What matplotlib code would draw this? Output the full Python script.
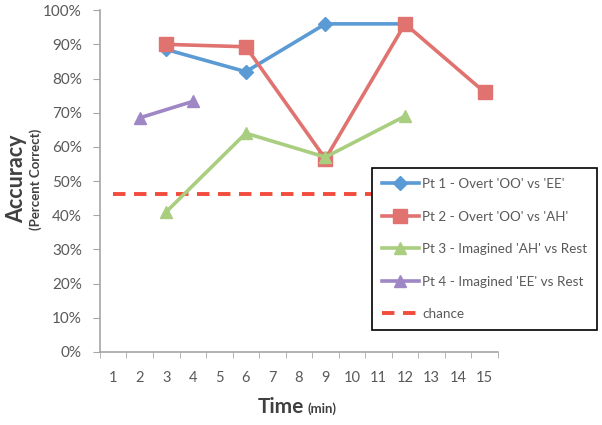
import matplotlib
matplotlib.use("Agg")
import matplotlib.pyplot as plt
from matplotlib.ticker import PercentFormatter

plt.rcParams['font.family'] = ['Lato', 'DejaVu Sans']

categories = list(range(1, 16))
pt1_x = [3, 6, 9, 12]
pt1_y = [88.5, 82, 96, 96]
pt2_x = [3, 6, 9, 12, 15]
pt2_y = [90, 89.3, 56.5, 96, 76]
pt3_x = [3, 6, 9, 12]
pt3_y = [41, 64, 57, 69]
pt4_x = [2, 4]
pt4_y = [68.5, 73.3]
chance_x = [1, 15]
chance_y = [46.3, 46.3]

labels = ["Pt 1 - Overt 'OO' vs 'EE'", "Pt 2 - Overt 'OO' vs 'AH'",
          "Pt 3 - Imagined 'AH' vs Rest", "Pt 4 - Imagined 'EE' vs Rest", "chance"]

fig = plt.figure(figsize=(6.02, 4.25), dpi=100)
ax = fig.add_axes([0.166, 0.172, 0.661, 0.804])

gray = '#595959'
lw = 2.6
ax.plot(chance_x, chance_y, color='#F24C3D', lw=2.8, ls=(0, (3.2, 2.2)), label=labels[4], zorder=2)
ax.plot(pt1_x, pt1_y, color='#5B9BD5', lw=lw, marker='D', ms=7, label=labels[0], zorder=3)
ax.plot(pt2_x, pt2_y, color='#E0736F', lw=lw, marker='s', ms=9.5, label=labels[1], zorder=3)
ax.plot(pt3_x, pt3_y, color='#A9CE7F', lw=lw, marker='^', ms=9, label=labels[2], zorder=3)
ax.plot(pt4_x, pt4_y, color='#9F87C6', lw=lw, marker='^', ms=9, label=labels[3], zorder=3)

ax.set_xlim(0.5, 15.5)
ax.set_ylim(0, 100)
ax.set_yticks(range(0, 101, 10))
ax.yaxis.set_major_formatter(PercentFormatter(decimals=0))
ax.set_xticks(categories)
ax.set_xticks([c - 0.5 for c in categories] + [15.5], minor=True)
ax.tick_params(axis='x', which='major', length=0, pad=14, labelsize=10.5, labelcolor=gray)
ax.tick_params(axis='x', which='minor', length=4, direction='out', color='#A6A6A6')
ax.tick_params(axis='y', length=5, direction='out', color='#A6A6A6', labelsize=11, labelcolor=gray, pad=8)
for s in ['top', 'right']:
    ax.spines[s].set_visible(False)
for s in ['left', 'bottom']:
    ax.spines[s].set_color('#A6A6A6')
    ax.spines[s].set_linewidth(1.2)

# axis titles
fig.text(0.027, 0.58, 'Accuracy', rotation=90, ha='center', va='center',
         fontsize=15.5, fontweight='bold', color='#404040')
fig.text(0.060, 0.577, '(Percent Correct)', rotation=90, ha='center', va='center',
         fontsize=9.5, fontweight='bold', color='#404040')
fig.text(0.505, 0.028, 'Time', ha='right', va='baseline', fontsize=15, fontweight='bold', color='#404040')
fig.text(0.511, 0.028, '(min)', ha='left', va='baseline', fontsize=9.5, fontweight='bold', color='#404040')

handles, labs = ax.get_legend_handles_labels()
order = [1, 2, 3, 4, 0]
leg = ax.legend([handles[i] for i in order], [labs[i] for i in order],
                loc='upper left', bbox_to_anchor=(0.683, 0.538), borderaxespad=0,
                frameon=True, fancybox=False, edgecolor='black', fontsize=9.7,
                labelspacing=1.52, handlelength=2.75, handletextpad=0.25,
                borderpad=0.75, framealpha=1)
leg.get_frame().set_linewidth(1.2)
for t in leg.get_texts():
    t.set_color(gray)
leg.set_zorder(5)

fig.savefig('out.png', dpi=100)
